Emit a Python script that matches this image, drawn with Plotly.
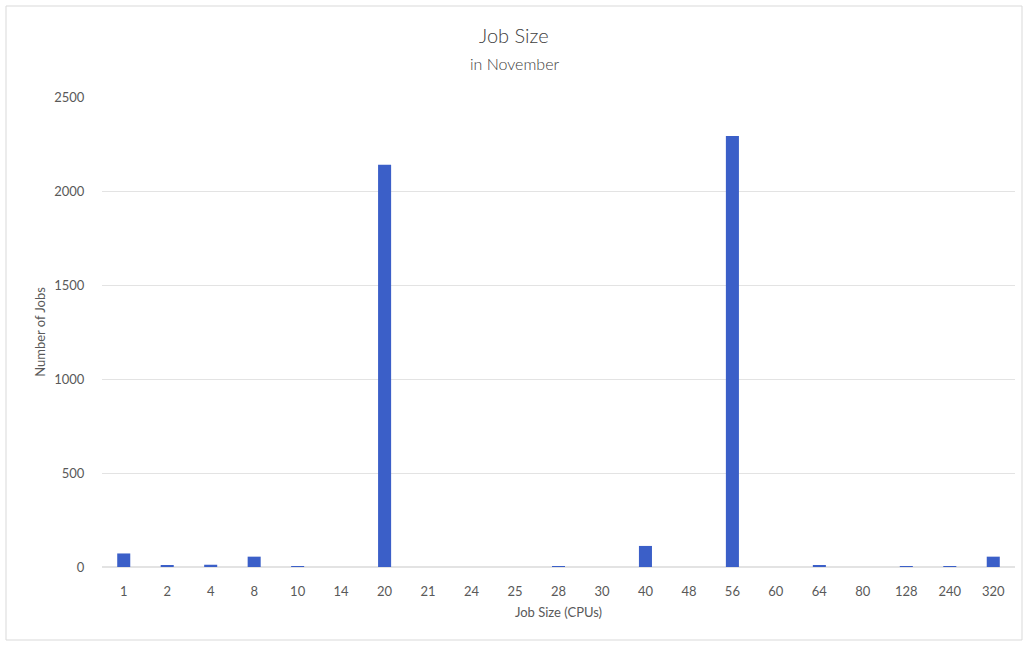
import plotly.graph_objects as go

job_sizes = ["1", "2", "4", "8", "10", "14", "20", "21", "24", "25", "28", "30",
             "40", "48", "56", "60", "64", "80", "128", "240", "320"]
num_jobs = [72, 10, 12, 55, 5, 0, 2140, 0, 0, 0, 5, 0,
            112, 0, 2293, 0, 10, 0, 2, 5, 55]

W, H = 1028, 645
font = "Lato"
grey = "#595959"

fig = go.Figure(go.Bar(
    x=job_sizes, y=num_jobs,
    marker=dict(color="#3B5FC8", line=dict(width=0)),
))

fig.update_layout(
    width=W, height=H,
    margin=dict(l=102, r=13, t=97, b=78),
    paper_bgcolor="white", plot_bgcolor="white",
    bargap=0.7,
    showlegend=False,
    font=dict(family=font, color=grey, size=13),
    xaxis=dict(type="category", showgrid=False, zeroline=False,
               showline=False, ticks="outside", ticklen=12, tickcolor="rgba(0,0,0,0)",
               tickfont=dict(size=13, color=grey),
               title=dict(text="Job Size (CPUs)", font=dict(size=13, color=grey), standoff=10)),
    yaxis=dict(range=[0, 2500], dtick=500, showgrid=True, gridcolor="#e3e3e3",
               gridwidth=1, zeroline=True, zerolinecolor="#e3e3e3", showline=False,
               ticks="outside", ticklen=14, tickcolor="rgba(0,0,0,0)",
               tickfont=dict(size=13, color=grey),
               title=dict(text="Number of Jobs", font=dict(size=13, color=grey), standoff=5)),
    annotations=[
        dict(text="Job Size", x=0.5, y=35, xref="paper", yref="paper", showarrow=False,
             font=dict(size=20, color="#404040", family=font, weight=300)),
        dict(text="in November", x=0.5, y=63, xref="paper", yref="paper", showarrow=False,
             font=dict(size=16, color="#404040", family=font, weight=300)),
    ],
)

# convert annotation pixel y to paper coordinates
plot_h = H - 97 - 78
for a in fig.layout.annotations:
    py = a.y
    a.y = (H - 78 - py) / plot_h
    a.x = (514 - 102) / (W - 102 - 13)
    a.yanchor = "middle"
    a.xanchor = "center"

fig.add_shape(type="rect", xref="paper", yref="paper",
              x0=(6 - 102) / (W - 115), x1=(1022 - 102) / (W - 115),
              y0=(H - 78 - 640) / plot_h, y1=(H - 78 - 6) / plot_h,
              line=dict(color="#d9d9d9", width=1), layer="below")

fig.write_html("out.html")
